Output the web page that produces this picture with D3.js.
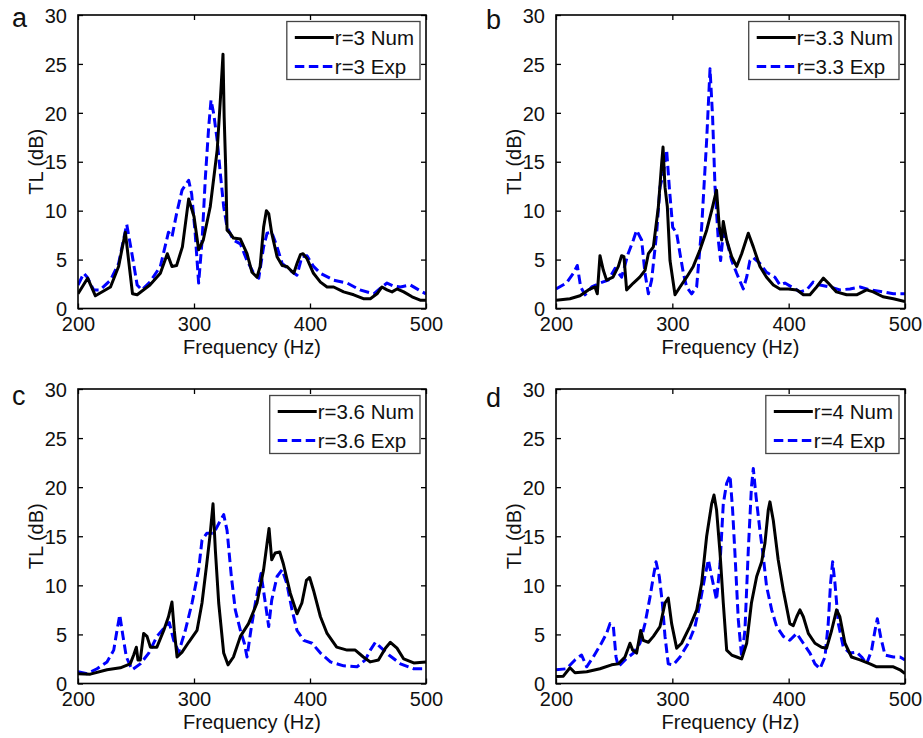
<!DOCTYPE html>
<html lang="en">
<head>
  <meta charset="UTF-8" />
  <title>TL vs frequency, four r values</title>
  <script src="https://d3js.org/d3.v7.min.js"></script>
  <style>
    body { margin: 0; background: #fff; }
    svg { display: block; font-family: "Liberation Sans", Arial, sans-serif; }
    .tick-label { font-size: 20px; fill: #111; }
    .axis-title { font-size: 20px; fill: #111; }
    .panel-letter { font-size: 27px; fill: #111; }
    .legend-text { font-size: 20.5px; fill: #111; }
  </style>
</head>
<body>
<svg id="chart" width="923" height="738"></svg>
<script>
// frequency (Hz), TL (dB) pairs
const aNum = [[200,1.5],[208.3,3.1],[215,1.3],[228,2.2],[235,4.3],[240.8,7.8],[247,1.5],[251,1.4],[262,2.4],[271,3.6],[277,5.6],[281,4.3],[285,4.4],[290,6.3],[295.4,11.2],[300,9.4],[304,6.0],[308,7.0],[314,10.4],[320,16.2],[322.7,21.3],[325,26.0],[326,19.6],[327.3,14.5],[328.5,8.0],[331,7.7],[334,7.2],[340,7.1],[345.7,5.6],[350,3.7],[354.3,3.2],[357,4.3],[360,8.3],[362.4,10.0],[364.4,9.7],[367,7.7],[371.6,5.3],[376,4.4],[380,4.3],[386,3.6],[388.8,4.6],[391.7,5.5],[394,5.6],[397.4,5.1],[403,3.6],[409,2.7],[414.7,2.2],[420.4,2.2],[429,1.7],[437.7,1.4],[446,1.0],[452,1.0],[457.8,1.5],[462,2.2],[466.4,1.9],[470.7,1.7],[475,2.0],[480.8,1.7],[488,1.2],[495,0.85],[500,0.85]];
const aExp = [[200,2.4],[205,3.6],[208,3.2],[213.5,1.9],[219,1.9],[228,2.9],[235,4.6],[242,8.6],[246.5,5.6],[251,2.4],[255,1.9],[262,2.7],[271,4.3],[278,7.8],[281,7.3],[285,9.7],[289.7,12.1],[295.4,13.1],[298,11.7],[301,7.7],[304,2.6],[307,7.0],[309.8,13.4],[312.7,18.6],[314.7,21.3],[317,19.9],[320,17.2],[322.7,13.8],[325.6,10.4],[328.5,8.3],[334,7.0],[340,6.6],[345.7,4.9],[351.5,3.6],[355.8,3.1],[360,6.3],[363,7.7],[367,7.8],[371.6,6.3],[376,4.6],[383,3.9],[388.8,3.4],[393,5.3],[397.4,5.4],[403,4.3],[409,3.6],[420.4,2.9],[432,2.6],[443,1.9],[455,1.5],[462,2.2],[466.4,2.6],[472,2.3],[478,2.2],[486.5,2.4],[493.7,1.9],[500,1.5]];

const bNum = [[200,0.85],[212,1.0],[220.6,1.3],[227.8,1.9],[233.5,2.2],[235.5,1.5],[237.8,5.4],[240.7,3.9],[243.5,2.9],[249,3.2],[253.6,4.3],[256.4,5.4],[258.4,5.3],[260.7,1.9],[266.5,2.6],[272,3.2],[276.5,3.9],[279.4,5.6],[283.7,6.3],[288,10.4],[290.8,14.8],[292,16.5],[293.7,12.4],[295.7,10.4],[298,4.9],[302.3,1.4],[306.6,2.2],[312.3,3.2],[318,4.3],[323.8,6.0],[329.5,8.0],[333.8,10.0],[338,12.1],[340.4,8.3],[342.4,7.0],[343.8,8.9],[346.7,7.0],[351,5.3],[355.3,4.3],[359.6,5.6],[365.3,7.7],[369.6,6.3],[375.3,4.3],[381,3.2],[386.8,2.4],[392.5,2.0],[399.7,2.0],[407,1.9],[412.6,1.4],[418.3,1.4],[424,2.2],[429.8,3.1],[434,2.6],[441,1.7],[449.8,1.4],[458.4,1.4],[467,1.9],[472.7,1.7],[481,1.2],[490,1.0],[500,0.7]];
const bExp = [[200,2.0],[209,2.6],[214.9,3.6],[218.3,4.4],[221.2,2.2],[225,1.4],[230.7,2.2],[237.8,2.6],[245,2.9],[250.7,4.1],[256.4,3.2],[262,5.6],[266.5,7.0],[269.3,8.0],[273.6,7.0],[276.5,3.6],[279.4,1.5],[282.2,2.9],[286.5,7.7],[289.4,12.4],[292.3,13.8],[295.1,16.2],[297.4,12.4],[300.3,8.3],[303.7,7.7],[306.6,5.6],[309.5,3.6],[312.3,2.2],[316.6,1.5],[320.9,2.2],[325.2,8.3],[329.5,17.2],[332.4,24.5],[334.6,19.6],[336.7,12.4],[339.5,7.0],[341.5,4.9],[343.8,7.7],[346.7,7.0],[351,4.9],[355.3,3.6],[361,2.0],[363.9,3.2],[366.7,4.9],[369.6,5.2],[375.3,4.6],[381,3.7],[388.2,3.2],[392.5,2.4],[396.8,2.6],[402.6,2.2],[409.7,1.7],[415.5,1.9],[421,2.7],[426.9,2.4],[435.5,2.2],[444,1.9],[452.7,2.0],[461.3,2.2],[469.9,1.9],[481.3,1.7],[490,1.5],[500,1.5]];

const cNum = [[200,1.0],[210.6,0.95],[225,1.4],[236.5,1.6],[245,2.0],[248,2.9],[250.3,3.7],[251.7,2.4],[253.7,2.4],[256.6,5.1],[259.5,4.8],[262.4,3.7],[268,3.7],[273.9,5.4],[278,6.8],[281,8.3],[283,5.4],[285.4,2.7],[289.7,3.2],[295.4,4.2],[302.6,5.4],[306.9,8.2],[311,12.2],[314,15.3],[316.4,18.3],[318.4,13.6],[321.3,8.2],[325.6,3.1],[329.3,1.9],[334,2.7],[340,4.8],[347,6.1],[354.3,8.2],[360,11.6],[363,14.3],[364.7,15.8],[367,12.6],[370,13.3],[373.9,13.4],[377,12.2],[383,9.2],[388.8,7.1],[393,8.2],[396.9,10.5],[399.7,10.8],[403,9.5],[409,6.8],[414.7,5.1],[423,3.7],[432,3.4],[439,3.4],[446,2.7],[452,2.2],[459,2.4],[465,3.6],[469.3,4.2],[475,3.6],[480.8,2.5],[489.4,2.1],[500,2.2]];
const cExp = [[200,1.2],[207.8,1.0],[216.4,1.5],[225,2.2],[230.8,3.4],[233.6,5.4],[236,7.0],[238.8,4.8],[241.7,2.7],[246.6,1.4],[253.7,2.0],[261,3.1],[268,4.8],[275.3,5.8],[278.7,6.2],[282.5,4.4],[286.8,3.2],[292.5,5.4],[298.3,8.2],[304,11.6],[306.9,14.6],[311,15.3],[317,15.3],[322.7,16.6],[325.6,17.2],[328.5,15.6],[332.2,10.9],[335.6,7.5],[340,5.4],[343.4,4.1],[345.7,2.7],[349,5.4],[352.9,8.2],[357.8,11.2],[361.5,8.2],[364.4,5.8],[367,8.5],[371.6,10.9],[376,11.6],[380,10.2],[384.5,7.5],[388.8,5.4],[394.6,4.4],[401.8,4.1],[409,3.1],[417.6,2.2],[429,1.8],[440.5,1.7],[447.7,2.4],[452,3.4],[456.4,4.2],[460.7,3.7],[468,2.9],[478,2.0],[489.4,1.5],[500,1.5]];

const dNum = [[200,0.7],[206.3,0.75],[212,1.6],[216.3,1.1],[226.4,1.2],[237.8,1.5],[247.8,1.9],[253.6,2.0],[259.3,2.7],[263.6,4.1],[265.9,3.4],[269.3,3.1],[272.8,5.4],[275,4.4],[279.4,4.2],[283.7,4.8],[289.4,5.8],[293.7,8.2],[296.5,8.7],[299.4,6.1],[303.7,3.6],[308,4.1],[315,5.8],[321,7.5],[325.2,10.2],[329.5,15.0],[333.8,18.3],[335.8,19.2],[338,17.7],[341,13.3],[343.8,8.2],[346.7,3.4],[351,2.9],[355.3,2.7],[359.6,2.5],[363.9,4.1],[368,8.2],[372.5,10.9],[376.8,12.4],[379.6,14.3],[382.5,17.7],[383.9,18.5],[386.8,16.6],[391,12.6],[395.4,9.5],[401,6.1],[404,5.9],[406.9,6.8],[409.7,7.5],[412.6,6.8],[416.9,5.1],[422.6,4.1],[428.3,3.7],[432.6,3.6],[436.9,5.4],[441.2,7.5],[444,6.8],[448.4,4.1],[454,2.7],[461.3,2.4],[469.9,2.0],[475.6,1.7],[484.2,1.7],[490,1.7],[495.7,1.4],[500,1.0]];
const dExp = [[200,1.4],[209,1.5],[216.3,2.4],[222,2.9],[226.4,1.7],[232,2.7],[239,4.1],[243.5,5.1],[246.4,6.1],[249.3,5.8],[251.6,2.7],[253.6,1.7],[259.3,2.4],[266.5,3.1],[272.2,4.1],[276.5,6.1],[280.8,8.8],[283.7,10.9],[286,12.4],[288.8,10.9],[291.4,8.2],[293.7,4.8],[296.5,2.0],[300.8,1.9],[306.6,2.7],[313.7,4.1],[319.5,5.8],[323.8,8.2],[328,10.9],[331,12.6],[333.8,10.9],[338,8.5],[341,12.2],[343.8,18.3],[346.7,20.4],[349.6,21.2],[351.8,17.7],[353.8,13.3],[356.7,6.5],[359.6,2.7],[362.4,5.4],[365.3,13.6],[368,20.0],[369.6,21.9],[372,19.0],[375.3,15.6],[378.2,12.9],[381,9.9],[385.4,7.5],[389.7,5.8],[395.4,4.8],[401,4.4],[406.9,5.1],[412.6,4.1],[418.3,3.1],[422.6,2.0],[426.9,1.5],[431.2,2.7],[434,6.1],[436,10.2],[437.8,12.4],[439.8,10.2],[442.7,6.1],[447,3.7],[452.7,3.1],[458.4,3.2],[462.7,2.7],[467,2.0],[471.3,3.4],[474.2,5.4],[476.2,6.6],[479,4.8],[482.8,2.9],[490,2.7],[495.7,2.7],[500,2.4]];

const letters = ["a", "b", "c", "d"];
const rValues = ["3", "3.3", "3.6", "4"];
const xTicks = [200, 300, 400, 500];
const yTicks = [0, 5, 10, 15, 20, 25, 30];

const panels = [
  { num: aNum, exp: aExp, x0: 78,  x1: 426, y0: 15,  y1: 308.5, lx: 12,  ly: 27 },
  { num: bNum, exp: bExp, x0: 556, x1: 905, y0: 15,  y1: 308.5, lx: 486, ly: 29 },
  { num: cNum, exp: cExp, x0: 78,  x1: 426, y0: 389, y1: 683.5, lx: 12,  ly: 405 },
  { num: dNum, exp: dExp, x0: 556, x1: 905, y0: 389, y1: 683.5, lx: 486, ly: 407 }
];

const svg = d3.select("#chart");
const tickLen = 5;

panels.forEach((p, i) => {
  const x = d3.scaleLinear().domain([200, 500]).range([p.x0, p.x1]);
  const y = d3.scaleLinear().domain([0, 30]).range([p.y1, p.y0]);
  const g = svg.append("g");

  // clip so curves stay inside the box
  const clipId = "clip" + i;
  g.append("clipPath").attr("id", clipId)
    .append("rect")
    .attr("x", p.x0).attr("y", p.y0)
    .attr("width", p.x1 - p.x0).attr("height", p.y1 - p.y0);

  const line = d3.line().x(d => x(d[0])).y(d => y(d[1]));

  g.append("path")
    .datum(p.exp)
    .attr("clip-path", `url(#${clipId})`)
    .attr("d", line)
    .attr("fill", "none")
    .attr("stroke", "#0000ff")
    .attr("stroke-width", 3)
    .attr("stroke-dasharray", "9.5,4.5")
    .attr("stroke-linejoin", "round");

  g.append("path")
    .datum(p.num)
    .attr("clip-path", `url(#${clipId})`)
    .attr("d", line)
    .attr("fill", "none")
    .attr("stroke", "#000")
    .attr("stroke-width", 3)
    .attr("stroke-linejoin", "round");

  // axes: bottom/left with labels, inward ticks on all four sides
  const bottom = g.append("g").attr("transform", `translate(0,${p.y1})`)
    .call(d3.axisBottom(x).tickValues(xTicks).tickSizeInner(-tickLen).tickSizeOuter(0).tickPadding(10));
  const top = g.append("g").attr("transform", `translate(0,${p.y0})`)
    .call(d3.axisTop(x).tickValues(xTicks).tickSizeInner(-tickLen).tickSizeOuter(0).tickFormat(""));
  const left = g.append("g").attr("transform", `translate(${p.x0},0)`)
    .call(d3.axisLeft(y).tickValues(yTicks).tickSizeInner(-tickLen).tickSizeOuter(0).tickPadding(11));
  const right = g.append("g").attr("transform", `translate(${p.x1},0)`)
    .call(d3.axisRight(y).tickValues(yTicks).tickSizeInner(-tickLen).tickSizeOuter(0).tickFormat(""));

  [bottom, top, left, right].forEach(a => {
    a.select(".domain").remove();
    a.selectAll(".tick line").attr("stroke", "#000").attr("stroke-width", 1.3);
    a.selectAll(".tick text").attr("class", "tick-label").attr("font-family", null).attr("font-size", null);
  });
  bottom.selectAll(".tick text").attr("dy", "0.71em").attr("y", 8);
  left.selectAll(".tick text").attr("dy", "0.36em");

  g.append("rect")
    .attr("x", p.x0).attr("y", p.y0)
    .attr("width", p.x1 - p.x0).attr("height", p.y1 - p.y0)
    .attr("fill", "none").attr("stroke", "#000").attr("stroke-width", 1.6);

  g.append("text").attr("class", "axis-title")
    .attr("x", (p.x0 + p.x1) / 2).attr("y", p.y1 + 45)
    .attr("text-anchor", "middle")
    .text("Frequency (Hz)");

  g.append("text").attr("class", "axis-title")
    .attr("transform", `translate(${p.x0 - 35},${(p.y0 + p.y1) / 2}) rotate(-90)`)
    .attr("text-anchor", "middle")
    .text("TL (dB)");

  g.append("text").attr("class", "panel-letter")
    .attr("x", p.lx).attr("y", p.ly)
    .text(letters[i]);

  // legend, anchored to the upper right corner
  const lg = g.append("g");
  const rows = [
    { label: `r=${rValues[i]} Num`, color: "#000", dash: null },
    { label: `r=${rValues[i]} Exp`, color: "#0000ff", dash: "9.5,4.5" }
  ];
  const box = lg.append("rect")
    .attr("fill", "#fff").attr("stroke", "#444").attr("stroke-width", 1.3);
  const texts = rows.map((r, k) => {
    const cy = k * 29 + 16;
    lg.append("line")
      .attr("x1", 8).attr("x2", 47).attr("y1", cy).attr("y2", cy)
      .attr("stroke", r.color).attr("stroke-width", 3)
      .attr("stroke-dasharray", r.dash);
    return lg.append("text").attr("class", "legend-text")
      .attr("x", 48).attr("y", cy + 7)
      .text(r.label);
  });
  const tw = d3.max(texts, t => t.node().getComputedTextLength());
  const bw = 48 + tw + 6, bh = 58;
  box.attr("x", 0).attr("y", 0).attr("width", bw).attr("height", bh);
  lg.attr("transform", `translate(${p.x1 - 6 - bw},${p.y0 + 6.5})`);
});
</script>
</body>
</html>
